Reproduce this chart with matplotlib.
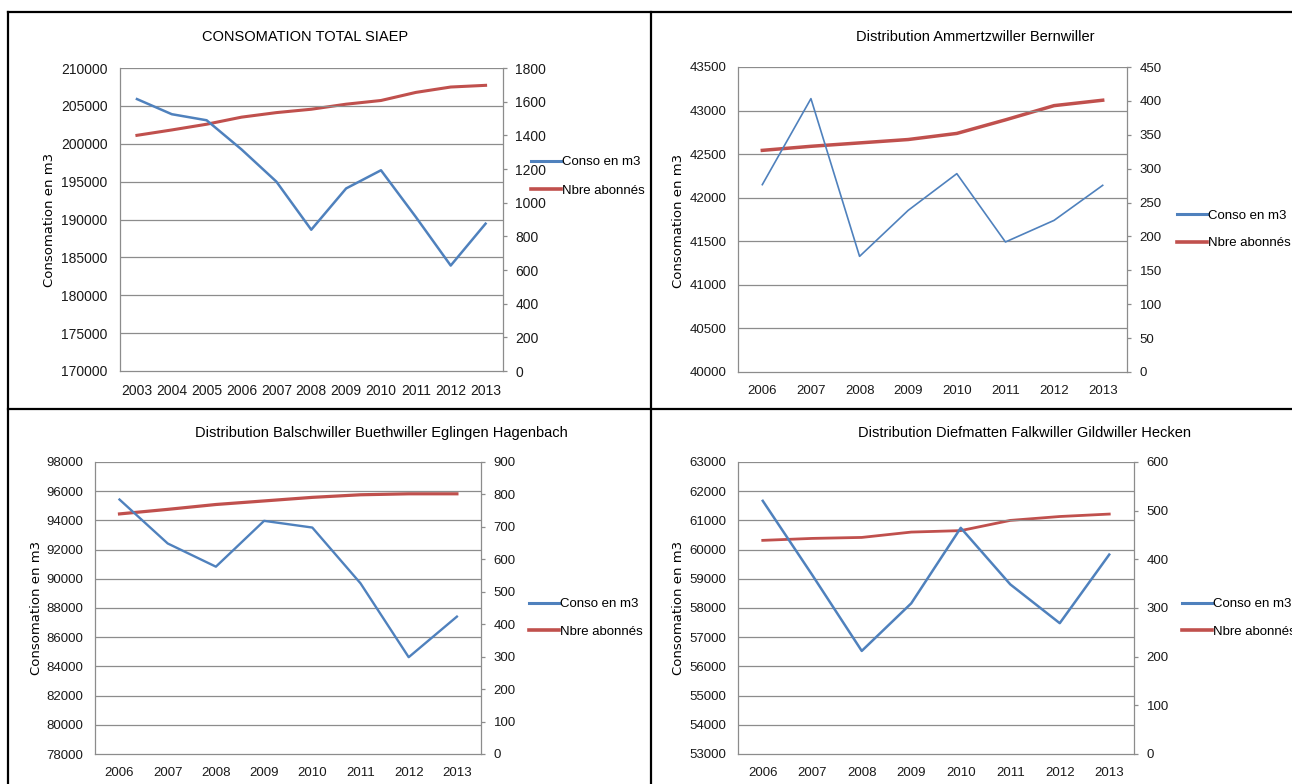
import matplotlib
matplotlib.use("Agg")
import matplotlib.pyplot as plt
from matplotlib.lines import Line2D

# ---------------- data ----------------
years_total = ["2003", "2004", "2005", "2006", "2007", "2008", "2009", "2010", "2011", "2012", "2013"]
conso_total = [205900, 203900, 203100, 199250, 195000, 188650, 194100, 196500, 190330, 183920, 189450]
abonnes_total = [1400, 1432, 1466, 1508, 1535, 1555, 1585, 1607, 1655, 1687, 1697]

years_dist = ["2006", "2007", "2008", "2009", "2010", "2011", "2012", "2013"]
conso_amm = [42150, 43137, 41327, 41855, 42276, 41492, 41740, 42142]
abonnes_amm = [327, 333, 338, 343, 352, 372, 393, 401]
conso_bal = [95430, 92420, 90830, 93970, 93510, 89690, 84630, 87410]
abonnes_bal = [740, 754, 769, 780, 791, 799, 802, 802]
conso_die = [61670, 59130, 56530, 58160, 60745, 58810, 57480, 59830]
abonnes_die = [439, 443, 445, 456, 459, 480, 488, 493]

titles = ["CONSOMATION TOTAL SIAEP",
          "Distribution Ammertzwiller Bernwiller",
          "Distribution Balschwiller Buethwiller Eglingen Hagenbach",
          "Distribution Diefmatten Falkwiller Gildwiller Hecken"]
ylabel = "Consomation en m3"
legend_labels = ["Conso en m3", "Nbre abonnés"]

BLUE = "#4F81BD"
RED = "#C0504D"
GRID = "#8c8c8c"
FONT = ["Liberation Sans", "DejaVu Sans"]

W, H = 1292, 784
fig = plt.figure(figsize=(W / 100, H / 100), dpi=100)
fig.patch.set_facecolor("white")


def rect(l, r, t, b):
    return [l / W, 1 - b / H, (r - l) / W, (b - t) / H]


panels = [
    dict(years=years_total, conso=conso_total, abon=abonnes_total,
         box=(119.5, 503, 68, 371), ylim=(170000, 210000), ystep=5000,
         y2lim=(0, 1800), y2step=200, title=titles[0], title_xy=(305, 37),
         ylab_xy=(50, 220), leg_xy=(531, 176.5), leg_sp=1.25,
         lw=(1.8, 2.2), fs=10),
    dict(years=years_dist, conso=conso_amm, abon=abonnes_amm,
         box=(738, 1127, 67, 372), ylim=(40000, 43500), ystep=500,
         y2lim=(0, 450), y2step=50, title=titles[1], title_xy=(975, 37),
         ylab_xy=(679, 221), leg_xy=(1177, 229.5), leg_sp=1.15,
         lw=(1.2, 2.5), fs=9.5),
    dict(years=years_dist, conso=conso_bal, abon=abonnes_bal,
         box=(95.4, 481, 462, 754), ylim=(78000, 98000), ystep=2000,
         y2lim=(0, 900), y2step=100, title=titles[2], title_xy=(381, 433),
         ylab_xy=(36.5, 608), leg_xy=(529, 618), leg_sp=1.15,
         lw=(1.7, 2.3), fs=9.5),
    dict(years=years_dist, conso=conso_die, abon=abonnes_die,
         box=(738, 1134, 462, 754), ylim=(53000, 63000), ystep=1000,
         y2lim=(0, 600), y2step=100, title=titles[3], title_xy=(1025, 433),
         ylab_xy=(679, 608), leg_xy=(1182, 618), leg_sp=1.15,
         lw=(1.8, 2.0), fs=9.5),
]

for p in panels:
    ax = fig.add_axes(rect(*p["box"]))
    ax2 = ax.twinx()
    n = len(p["years"])
    x = list(range(n))

    ax.set_xlim(-0.5, n - 0.5)
    ax.set_ylim(*p["ylim"])
    yt = list(range(p["ylim"][0], p["ylim"][1] + 1, p["ystep"]))
    ax.set_yticks(yt)
    ax.set_yticklabels([str(v) for v in yt], fontsize=p["fs"], family=FONT, color="#1a1a1a")
    ax.set_xticks(x)
    ax.set_xticklabels(p["years"], fontsize=p["fs"], family=FONT, color="#1a1a1a")
    ax.tick_params(axis="x", length=0, pad=9.5)
    ax.tick_params(axis="y", length=0, pad=8.5)
    for v in yt[1:]:
        ax.axhline(v, color=GRID, lw=0.9, zorder=0)

    for s in ["top", "right"]:
        ax.spines[s].set_visible(False)
    for s in ["left", "bottom"]:
        ax.spines[s].set_color(GRID)
        ax.spines[s].set_linewidth(0.9)

    ax2.set_ylim(*p["y2lim"])
    y2t = list(range(p["y2lim"][0], p["y2lim"][1] + 1, p["y2step"]))
    ax2.set_yticks(y2t)
    ax2.set_yticklabels([str(v) for v in y2t], fontsize=p["fs"], family=FONT, color="#1a1a1a")
    ax2.tick_params(axis="y", length=3, width=0.9, color=GRID, pad=6)
    for s in ["top", "left", "bottom"]:
        ax2.spines[s].set_visible(False)
    ax2.spines["right"].set_color(GRID)
    ax2.spines["right"].set_linewidth(0.9)

    ax.plot(x, p["conso"], color=BLUE, lw=p["lw"][0], zorder=3, solid_joinstyle="round")
    ax2.plot(x, p["abon"], color=RED, lw=p["lw"][1], zorder=3, solid_joinstyle="round")
    ax.set_zorder(ax2.get_zorder() + 1)
    ax.patch.set_visible(False)

    fig.text(p["title_xy"][0] / W, 1 - p["title_xy"][1] / H, p["title"],
             ha="center", va="center", fontsize=10.5, family=FONT, color="black")
    fig.text(p["ylab_xy"][0] / W, 1 - p["ylab_xy"][1] / H, ylabel,
             ha="center", va="center", rotation=90, fontsize=9.5,
             family=["DejaVu Sans"], color="black")

    handles = [Line2D([], [], color=BLUE, lw=2.2), Line2D([], [], color=RED, lw=2.6)]
    fig.legend(handles, legend_labels, loc="center left",
               bbox_to_anchor=(p["leg_xy"][0] / W, 1 - p["leg_xy"][1] / H),
               frameon=False, handlelength=2.25, handletextpad=0.1,
               labelspacing=p["leg_sp"], borderpad=0, borderaxespad=0,
               prop={"family": FONT, "size": 9.5})

# panel borders
def fline(x0, y0, x1, y1):
    fig.add_artist(Line2D([x0 / W, x1 / W], [1 - y0 / H, 1 - y1 / H],
                          color="black", lw=1.6, transform=fig.transFigure))

fline(8, 12, W, 12)
fline(8, 12, 8, H)
fline(651, 12, 651, H)
fline(8, 409, W, 409)

fig.savefig("out.png", dpi=100, facecolor="white")
